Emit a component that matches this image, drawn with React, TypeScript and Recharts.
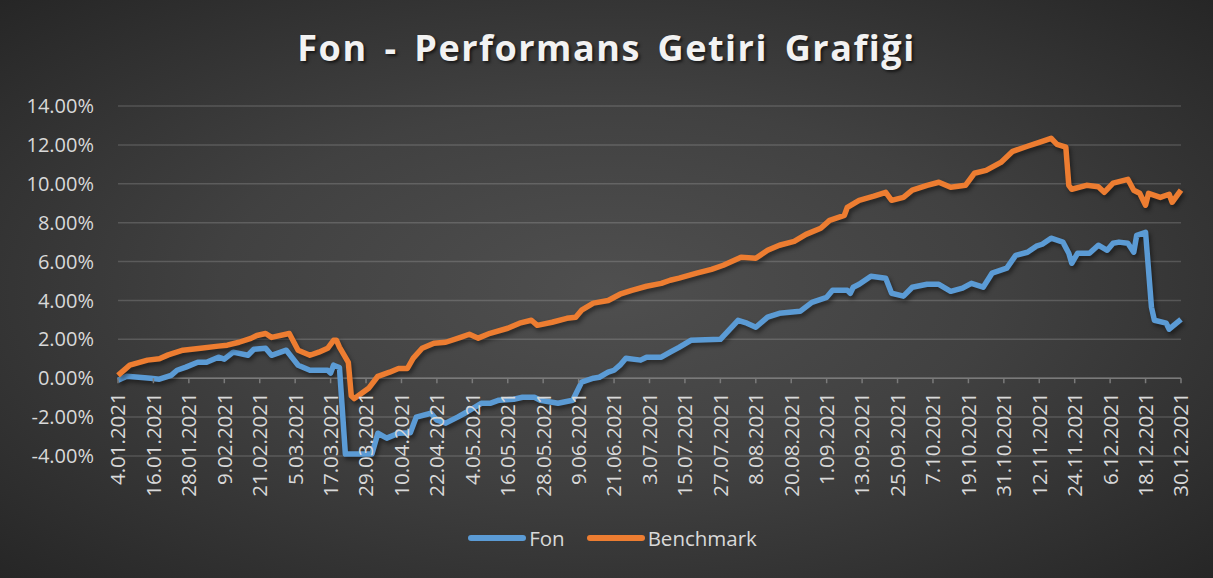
import React from 'react'
import { LineChart, Line, XAxis, YAxis, CartesianGrid, Legend, ReferenceLine } from 'recharts'

// day offsets count from 4.01.2021
const xTickLabels = [
    '4.01.2021', '16.01.2021', '28.01.2021', '9.02.2021', '21.02.2021', '5.03.2021', '17.03.2021',
    '29.03.2021', '10.04.2021', '22.04.2021', '4.05.2021', '16.05.2021', '28.05.2021', '9.06.2021',
    '21.06.2021', '3.07.2021', '15.07.2021', '27.07.2021', '8.08.2021', '20.08.2021', '1.09.2021',
    '13.09.2021', '25.09.2021', '7.10.2021', '19.10.2021', '31.10.2021', '12.11.2021', '24.11.2021',
    '6.12.2021', '18.12.2021', '30.12.2021'
]
const tickStepDays = 12

const yTicks = [-4, -2, 0, 2, 4, 6, 8, 10, 12, 14]

const fonDays = [
    0, 3, 11, 14, 18, 20, 23, 27, 30, 34, 36, 39, 44, 46, 50, 52, 57, 61, 65, 71,
    72, 73, 75, 77, 86, 88, 91, 95, 99, 101, 106, 108, 111, 115, 118, 123, 126, 129, 134, 137,
    141, 143, 149, 154, 157, 161, 163, 166, 168, 170, 172, 177, 179, 184, 187, 190, 194, 204, 210, 213,
    216, 220, 224, 231, 235, 240, 242, 247, 248, 249, 251, 255, 260, 262, 266, 269, 274, 278, 282, 286,
    289, 293, 296, 301, 304, 308, 311, 313, 316, 320, 322, 323, 325, 329, 332, 335, 337, 339, 342, 344,
    345, 348, 350, 351, 355, 356, 360
]
const fonValues = [
    -0.1, 0.1, 0.0, -0.05, 0.15, 0.41, 0.57, 0.82, 0.82, 1.08, 0.98, 1.34, 1.18, 1.49, 1.54, 1.18, 1.44, 0.67, 0.41, 0.41,
    0.26, 0.67, 0.55, -3.9, -3.9, -2.83, -3.08, -2.83, -2.8, -2.0, -1.8, -2.16, -2.31, -2.0, -1.75, -1.29, -1.29, -1.13, -1.08, -0.98,
    -0.98, -1.13, -1.29, -1.13, -0.2, 0.0, 0.05, 0.31, 0.41, 0.67, 1.03, 0.93, 1.08, 1.08, 1.34, 1.59, 1.95, 2.0, 2.98, 2.83,
    2.62, 3.14, 3.34, 3.44, 3.9, 4.16, 4.52, 4.52, 4.37, 4.68, 4.83, 5.24, 5.14, 4.37, 4.22, 4.68, 4.83, 4.83, 4.47, 4.63,
    4.88, 4.68, 5.4, 5.66, 6.32, 6.48, 6.79, 6.89, 7.2, 7.0, 6.43, 5.91, 6.43, 6.43, 6.84, 6.58, 6.94, 7.0, 6.94, 6.48,
    7.35, 7.5, 3.65, 2.98, 2.83, 2.52, 3.03
]

const benchDays = [
    0, 4, 10, 14, 17, 22, 28, 34, 37, 41, 45, 47, 50, 52, 58, 61, 65, 68, 71, 73,
    74, 75, 78, 79, 80, 83, 85, 88, 92, 95, 98, 100, 103, 107, 111, 116, 119, 122, 126, 132,
    136, 140, 142, 147, 152, 155, 157, 161, 166, 170, 174, 179, 184, 187, 190, 196, 201, 205, 211, 216,
    220, 224, 229, 233, 238, 241, 246, 247, 251, 256, 260, 262, 266, 269, 274, 278, 282, 287, 290, 294,
    299, 303, 308, 312, 316, 318, 321, 322, 323, 328, 332, 334, 337, 342, 344, 346, 348, 349, 353, 356,
    357, 360
]
const benchValues = [
    0.15, 0.67, 0.93, 1.0, 1.2, 1.44, 1.54, 1.65, 1.7, 1.85, 2.05, 2.2, 2.3, 2.1, 2.3, 1.44, 1.18, 1.34, 1.54, 1.95,
    1.95, 1.6, 0.82, -0.9, -1.05, -0.72, -0.5, 0.1, 0.31, 0.5, 0.5, 1.03, 1.54, 1.8, 1.85, 2.1, 2.26, 2.06, 2.31, 2.57,
    2.83, 2.98, 2.72, 2.88, 3.08, 3.14, 3.5, 3.86, 4.0, 4.32, 4.52, 4.73, 4.88, 5.04, 5.15, 5.4, 5.6, 5.81, 6.22, 6.17,
    6.58, 6.84, 7.04, 7.4, 7.71, 8.12, 8.38, 8.79, 9.15, 9.36, 9.56, 9.15, 9.3, 9.67, 9.92, 10.08, 9.82, 9.92, 10.54, 10.69,
    11.1, 11.67, 11.93, 12.13, 12.34, 12.03, 11.88, 9.92, 9.72, 9.92, 9.85, 9.56, 10.03, 10.23, 9.67, 9.51, 8.9, 9.51, 9.3, 9.46,
    9.05, 9.67
]

const FON_COLOR = '#5b9bd5'
const BENCH_COLOR = '#ed7d31'
const TEXT_COLOR = '#d9d9d9'

const WIDTH = 1213
const HEIGHT = 578
const MARGIN = { top: 106, right: 32, left: 18, bottom: 20 }
const PLOT_HEIGHT = 350
const Y_MIN = -4
const Y_MAX = 14

const fonData = fonDays.map((d, i) => ({ day: d, value: fonValues[i] }))
const benchData = benchDays.map((d, i) => ({ day: d, value: benchValues[i] }))
const xTicks = xTickLabels.map((_, i) => i * tickStepDays)

// the date labels hang from the 0% line, not from the bottom of the plot
const zeroY = MARGIN.top + PLOT_HEIGHT * (Y_MAX / (Y_MAX - Y_MIN))

const DateTick = ({ x, payload }: any) => {
    const label = xTickLabels[payload.index] ?? ''
    const y0 = zeroY + 14
    return (
        <g>
            <line x1={x} x2={x} y1={zeroY} y2={zeroY + 5} stroke="#7a7a7a" strokeWidth={1.5} />
            <text
                x={x}
                y={y0}
                dy="0.36em"
                textAnchor="end"
                transform={`rotate(-90, ${x}, ${y0})`}
                fill={TEXT_COLOR}
                fontSize={20.5}
                fontFamily="'Open Sans', sans-serif"
            >
                {label}
            </text>
        </g>
    )
}

const LegendContent = () => {
    const items = [
        { label: 'Fon', color: FON_COLOR },
        { label: 'Benchmark', color: BENCH_COLOR }
    ]
    return (
        <div style={{ display: 'flex', justifyContent: 'center', alignItems: 'center', height: 40, paddingLeft: 48 }}>
            {items.map((item) => (
                <div key={item.label} style={{ display: 'flex', alignItems: 'center', marginRight: 22 }}>
                    <svg width={58} height={10}>
                        <line x1={3} x2={55} y1={5} y2={5} stroke={item.color} strokeWidth={6} strokeLinecap="round" />
                    </svg>
                    <span style={{ color: TEXT_COLOR, fontSize: 20.5, marginLeft: 3, fontFamily: "'Open Sans', sans-serif" }}>
                        {item.label}
                    </span>
                </div>
            ))}
        </div>
    )
}

export default function App() {
    return (
        <div
            style={{
                position: 'absolute',
                top: 0,
                left: 0,
                width: WIDTH,
                height: HEIGHT,
                background: 'radial-gradient(ellipse at 50% 50%, #4f4f4f 0%, #414141 45%, #262626 100%)',
                fontFamily: "'Open Sans', sans-serif"
            }}
        >
            <style>{`.recharts-line-curve { filter: drop-shadow(2px 3px 2px rgba(0,0,0,0.45)); }`}</style>
            <div
                style={{
                    position: 'absolute',
                    top: 27,
                    left: 0,
                    width: WIDTH,
                    textAlign: 'center',
                    color: '#f2f2f2',
                    fontSize: 36,
                    fontWeight: 700,
                    lineHeight: '42px',
                    letterSpacing: 1.5,
                    wordSpacing: 6,
                    textShadow: '2px 2px 3px rgba(0,0,0,0.6)',
                    zIndex: 1
                }}
            >
                Fon - Performans Getiri Grafiği
            </div>
            <LineChart width={WIDTH} height={HEIGHT} margin={MARGIN}>
                <CartesianGrid vertical={false} stroke="rgba(255,255,255,0.16)" strokeWidth={1.5} />
                <XAxis
                    type="number"
                    dataKey="day"
                    domain={[0, 360]}
                    ticks={xTicks}
                    interval={0}
                    axisLine={false}
                    tickLine={false}
                    height={62}
                    tick={<DateTick />}
                    allowDuplicatedCategory={false}
                />
                <YAxis
                    type="number"
                    domain={[Y_MIN, Y_MAX]}
                    ticks={yTicks}
                    width={100}
                    axisLine={false}
                    tickLine={false}
                    tickSize={0}
                    tickMargin={24}
                    tickFormatter={(v: number) => v.toFixed(2) + '%'}
                    tick={{ fill: TEXT_COLOR, fontSize: 20, fontFamily: "'Open Sans', sans-serif" }}
                />
                <ReferenceLine y={0} stroke="#7a7a7a" strokeWidth={1.5} />
                <Line
                    data={fonData}
                    dataKey="value"
                    name="Fon"
                    type="linear"
                    stroke={FON_COLOR}
                    strokeWidth={5.5}
                    strokeLinejoin="round"
                    dot={false}
                    isAnimationActive={false}
                />
                <Line
                    data={benchData}
                    dataKey="value"
                    name="Benchmark"
                    type="linear"
                    stroke={BENCH_COLOR}
                    strokeWidth={5.5}
                    strokeLinejoin="round"
                    dot={false}
                    isAnimationActive={false}
                />
                <Legend verticalAlign="bottom" height={40} content={<LegendContent />} />
            </LineChart>
        </div>
    )
}
